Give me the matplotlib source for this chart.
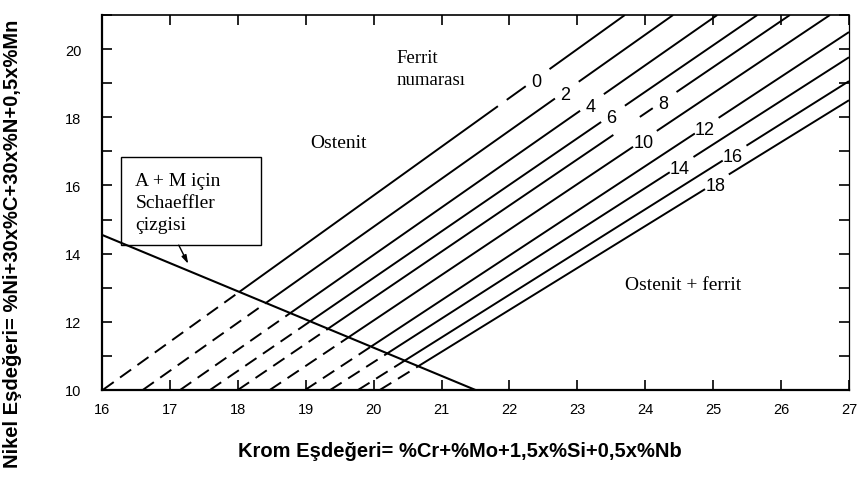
import matplotlib
matplotlib.use("Agg")
import matplotlib.pyplot as plt
from matplotlib.patches import Rectangle
from matplotlib.ticker import FixedLocator

# Iso-ferrite lines (ferrite number) of the constitution diagram
ferrite_numbers = [0, 2, 4, 6, 8, 10, 12, 14, 16, 18]
# Cr equivalent where each line starts, at Ni equivalent = 10
ferrite_cr_start = [16.01, 16.60, 17.15, 17.59, 18.00, 18.47, 18.99, 19.36, 19.77, 20.09]
# Upper end of each line (on the top or right border of the diagram)
ferrite_cr_end = [23.70, 24.41, 25.06, 25.65, 26.13, 26.72, 27.0, 27.0, 27.0, 27.0]
ferrite_ni_end = [21.0, 21.0, 21.0, 21.0, 21.0, 21.0, 20.50, 19.76, 19.06, 18.50]
# Cr equivalent at which each ferrite number is written on its line
ferrite_label_cr = [22.39, 22.82, 23.19, 23.50, 24.26, 23.97, 24.88, 24.51, 25.29, 25.03]

# Schaeffler A + M boundary
schaeffler_cr = [16.0, 21.5]
schaeffler_ni = [14.55, 10.0]

x_ticks = list(range(16, 28))
y_ticks = [10, 12, 14, 16, 18, 20]
y_minor_ticks = [11, 13, 15, 17, 19, 21]

SANS = "Liberation Sans"
SERIF = "Liberation Serif"
plt.rcParams["font.family"] = [SANS, "DejaVu Sans"]

fig = plt.figure(figsize=(8.59, 4.85), dpi=100)
ax = fig.add_axes([102 / 859, 1 - 391 / 485, 747 / 859, 375 / 485])
ax.set_xlim(16, 27)
ax.set_ylim(10, 21)

# Schaeffler line
ax.plot(schaeffler_cr, schaeffler_ni, color="black", lw=1.5, solid_capstyle="butt", zorder=3)
s_slope = (schaeffler_ni[1] - schaeffler_ni[0]) / (schaeffler_cr[1] - schaeffler_cr[0])

# small extra breaks next to some of the numbers
extra_breaks = {0: [(21.83, 21.96)], 8: [(23.53, 23.92)]}

for fn, x0, x1, y1, lx in zip(ferrite_numbers, ferrite_cr_start, ferrite_cr_end,
                              ferrite_ni_end, ferrite_label_cr):
    m = (y1 - 10.0) / (x1 - x0)

    def yof(x, m=m, x0=x0):
        return 10.0 + m * (x - x0)

    # crossing with the Schaeffler line: dashed below, solid above
    xc = (schaeffler_ni[0] - s_slope * schaeffler_cr[0] - 10.0 + m * x0) / (m - s_slope)
    ax.plot([x0, xc], [yof(x0), yof(xc)], color="black", lw=1.4,
            dashes=(7, 4), dash_capstyle="butt", zorder=2)

    breaks = sorted(extra_breaks.get(fn, []) + [(lx - 0.15, lx + 0.20)])
    pieces = []
    start = xc
    for b0, b1 in breaks:
        pieces.append((start, b0))
        start = b1
    pieces.append((start, x1))
    for a, b in pieces:
        ax.plot([a, b], [yof(a), yof(b)], color="black", lw=1.4,
                solid_capstyle="butt", zorder=2)

    ax.text(lx, yof(lx) - 0.08, str(fn), fontsize=13, family=SANS,
            ha="center", va="center", zorder=4)

# Region names (baseline refers to the last line of multi-line text)
ax.text(20.34, 18.98, "Ferrit\nnumarası", family=SERIF, fontsize=13.5,
        ha="left", va="baseline", linespacing=1.4)
ax.text(19.48, 17.13, "Ostenit", family=SERIF, fontsize=14, ha="center", va="baseline")
ax.text(23.70, 12.96, "Ostenit + ferrit", family=SERIF, fontsize=14,
        ha="left", va="baseline")

# Label box for the Schaeffler line
ax.add_patch(Rectangle((16.28, 14.25), 2.06, 2.58, facecolor="none",
                       edgecolor="black", lw=1.0, zorder=3))
ax.text(16.49, 14.72, "A + M için\nSchaeffler\nçizgisi", family=SERIF, fontsize=14,
        ha="left", va="baseline", linespacing=1.4, zorder=4)
ax.annotate("", xy=(17.27, 13.70), xytext=(17.13, 14.25),
            arrowprops=dict(arrowstyle="-|>,head_length=0.5,head_width=0.15",
                            color="black", lw=1.0, shrinkA=0, shrinkB=0))

# Axes styling
ax.xaxis.set_major_locator(FixedLocator(x_ticks))
ax.yaxis.set_major_locator(FixedLocator(y_ticks))
ax.yaxis.set_minor_locator(FixedLocator(y_minor_ticks))
ax.tick_params(which="both", direction="in", top=True, right=True,
               length=7, width=1.2, labelsize=10.5)
ax.tick_params(axis="x", pad=9)
ax.tick_params(axis="y", pad=15)
for side, w in (("left", 1.6), ("bottom", 1.6), ("top", 1.2), ("right", 0.9)):
    ax.spines[side].set_linewidth(w)

fig.text(460 / 859, 1 - 452 / 485, "Krom Eşdeğeri= %Cr+%Mo+1,5x%Si+0,5x%Nb",
         fontsize=14.5, fontweight="bold", ha="center", va="center")
fig.text(13 / 859, 1 - 244 / 485, "Nikel Eşdeğeri= %Ni+30x%C+30x%N+0,5x%Mn",
         fontsize=14.5, fontweight="bold", ha="center", va="center", rotation=90)

fig.savefig("out.png", dpi=100)
